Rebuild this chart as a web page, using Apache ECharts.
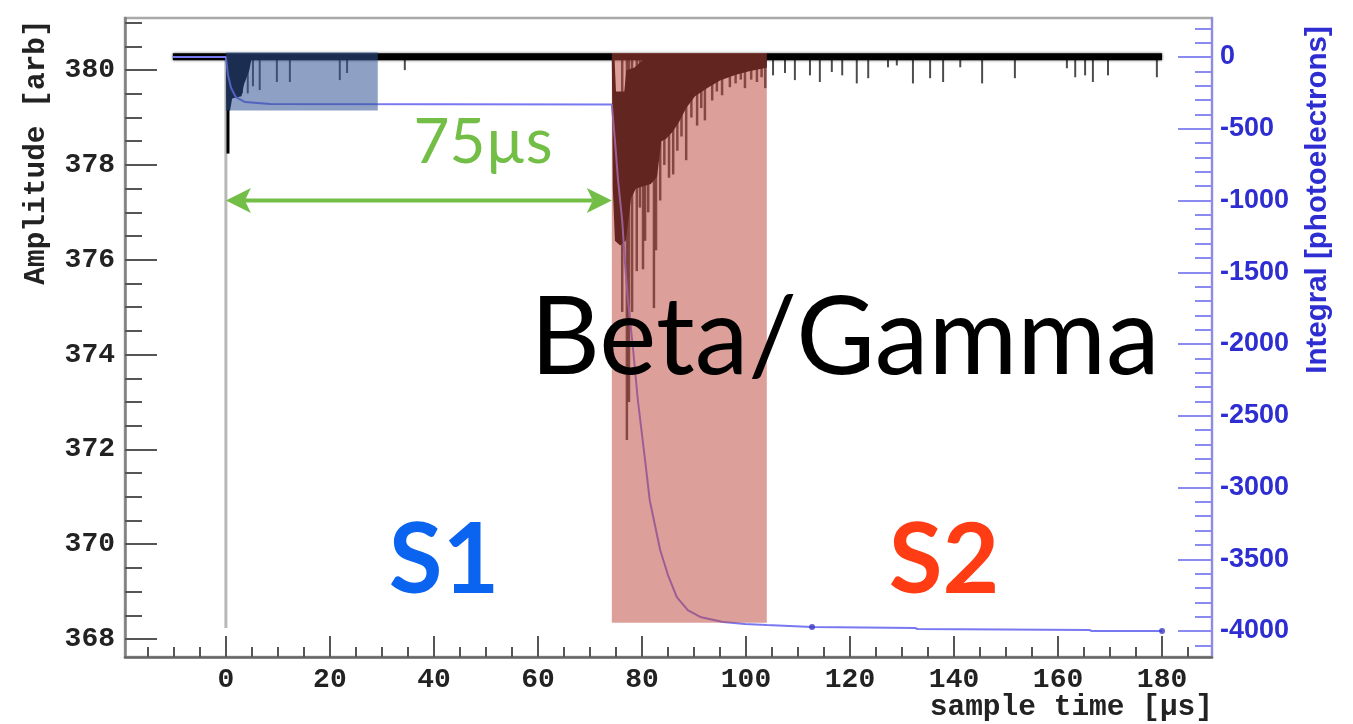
<!DOCTYPE html>
<html>
<head>
<meta charset="utf-8">
<script src="https://cdn.jsdelivr.net/npm/echarts@6/dist/echarts.min.js"></script>
<style>
  html, body { margin: 0; padding: 0; background: #fff; }
  #chart { width: 1353px; height: 724px; }
</style>
</head>
<body>
<div id="chart"></div>
<script>
// ---------- axes ----------
const timeRange = [-19.4, 189.6];                  // sample time [µs]
const timeTicks = [0, 20, 40, 60, 80, 100, 120, 140, 160, 180];
const ampRange = [367.62, 381.1];                  // amplitude [arb]
const ampTicks = [368, 370, 372, 374, 376, 378, 380];
const integralRange = [-4181, 272];                // integral [photoelectrons]
const integralTicks = [0, -500, -1000, -1500, -2000, -2500, -3000, -3500, -4000];

function steps(from, to, step) {
  const out = [];
  for (let v = from; v <= to + 1e-9; v += step) out.push(+v.toFixed(3));
  return out;
}
const timeMinorTicks = steps(-15, 185, 5);
const ampMinorTicks = steps(368, 381, 0.5);
const integralMinorTicks = steps(-4100, 200, 100);

// ---------- waveform ----------
const baselineLevel = 380.285;
const traceSpan = [-10.2, 180];

// S1 pulse: solid body right after the trigger
const s1Upper = [[0, 380.285], [5.0, 380.285]];
const s1Lower = [[0, 380.285], [0.1, 379.15], [0.8, 379.15], [1.2, 379.4], [3.0, 379.45],
                 [3.5, 379.7], [4.5, 380.0], [5.0, 380.285]];
const s1Peak = [[0.4, 378.24]];

// S2 pulse: solid body of the electroluminescence signal
const s2Upper = [[74.2, 380.3], [74.7, 380.3], [75.0, 379.55], [76.6, 379.55], [77.0, 380.0],
                 [78.5, 380.05], [80.0, 380.2], [81.0, 380.3], [104.0, 380.3]];
const s2Lower = [[74.2, 380.3], [74.4, 377.5], [74.8, 376.4], [75.8, 376.3], [76.9, 376.4],
                 [77.9, 377.3], [78.8, 377.5], [80.2, 377.55], [81.7, 377.6], [82.9, 377.75],
                 [83.7, 378.5], [84.6, 378.55], [85.9, 378.7], [87.1, 378.9], [88.5, 379.2],
                 [90.2, 379.45], [92.5, 379.62], [95.0, 379.78], [97.9, 379.9], [100.8, 379.98],
                 [104.0, 380.05]];

// single-photoelectron spikes [time, minimum amplitude]
const spikes = [
  [3.1, 379.51], [4.2, 379.51], [5.2, 379.66], [6.5, 379.58], [9.8, 379.75], [12.3, 379.75],
  [21.9, 379.79], [23.3, 379.94], [34.4, 380.0],
  [105.2, 379.89], [107.5, 379.94], [109.4, 379.79], [112.3, 379.89], [114.2, 379.75],
  [116.5, 379.96], [118.5, 379.89], [121.3, 379.72], [123.5, 379.83], [127.3, 380.06],
  [129.0, 380.1], [132.1, 379.72], [135.4, 379.83], [137.9, 379.75], [141.2, 380.06],
  [145.4, 379.72], [151.7, 379.83], [161.7, 380.04], [163.3, 379.85], [165.2, 379.89],
  [166.7, 379.75], [169.6, 379.89], [179.0, 379.85]
];
// dense spikes riding on the S2 body
const s2Spikes = [
  [76.2, 374.9], [77.1, 372.2], [77.5, 373.0], [78.1, 374.9], [79.0, 375.76], [79.6, 377.1],
  [80.2, 375.8], [80.6, 376.4], [81.2, 377.0], [82.3, 374.98], [82.7, 376.2], [83.5, 377.25],
  [84.3, 378.0], [85.2, 377.73], [86.0, 377.8], [86.8, 378.3], [87.6, 378.6], [88.5, 378.1],
  [89.5, 379.0], [90.6, 378.83], [91.4, 379.2], [92.1, 378.94], [93.5, 379.36], [94.4, 379.55],
  [95.4, 379.47], [96.9, 379.64], [98.0, 379.72], [99.0, 379.8], [99.8, 379.62], [101.0, 379.8],
  [102.1, 379.75], [103.0, 379.85], [103.7, 379.62]
];

// running integral of the pulse [time, photoelectrons]
const integralTrace = [
  [-10.2, 0], [0, 0], [0.4, -125], [1.0, -216], [1.9, -279], [3.7, -314], [8.5, -327],
  [74.2, -330], [74.8, -580], [75.4, -860], [76.2, -1140], [76.7, -1415], [77.3, -1690],
  [78.3, -2040], [79.2, -2390], [80.6, -2810], [81.5, -3090], [83.5, -3435], [85.0, -3610],
  [86.7, -3763], [88.8, -3855], [91.2, -3902], [95.6, -3937], [99.8, -3951], [104.0, -3958],
  [112.7, -3972], [132.5, -3979], [133.0, -3986], [166.0, -3993], [166.5, -4000], [180.0, -4000]
];
const integralMarkers = [[112.7, -3972], [180.0, -4000]];

// integration windows and annotations
const s1WindowTime = [0, 29.2];
const s1WindowAmp = [379.15, 380.38];
const s2WindowTime = [74.2, 104.0];
const s2WindowAmp = [368.34, 380.36];
const driftTime = [0, 74.2];
const driftLevel = 377.25;
const triggerTime = 0;
const triggerAmp = [368.23, 380.285];

// ---------- drawing helpers ----------
const monoFont = '"Liberation Mono", "DejaVu Sans Mono", monospace';
const sansFont = '"Liberation Sans", Arial, sans-serif';
const titleFont = 'Lato, "Open Sans", sans-serif';

function bandSeries(upper, lower) {
  return {
    type: 'custom', xAxisIndex: 0, yAxisIndex: 0, z: 2, silent: true,
    data: [upper[0]], encode: { x: 0, y: 1 },
    renderItem: (params, api) => {
      const pts = upper.map(p => api.coord(p))
        .concat(lower.slice().reverse().map(p => api.coord(p)));
      return { type: 'polygon', shape: { points: pts }, style: { fill: '#000' } };
    }
  };
}

function spikeSeries(data, width, opacity) {
  return {
    type: 'custom', xAxisIndex: 0, yAxisIndex: 0, z: 2, silent: true,
    data: data, encode: { x: 0, y: 1 },
    renderItem: (params, api) => {
      const t = api.value(0);
      const a = api.coord([t, baselineLevel]);
      const b = api.coord([t, api.value(1)]);
      return { type: 'line', shape: { x1: a[0], y1: a[1], x2: b[0], y2: b[1] },
               style: { stroke: '#000', lineWidth: width, opacity: opacity } };
    }
  };
}

function windowSeries(times, amps, fill) {
  return {
    type: 'custom', xAxisIndex: 0, yAxisIndex: 0, z: 4, silent: true,
    data: [[times[0], times[1], amps[0], amps[1]]], encode: { x: [0, 1], y: [2, 3] },
    renderItem: (params, api) => {
      const p0 = api.coord([api.value(0), api.value(3)]);
      const p1 = api.coord([api.value(1), api.value(2)]);
      return { type: 'rect',
               shape: { x: p0[0], y: p0[1], width: p1[0] - p0[0], height: p1[1] - p0[1] },
               style: { fill: fill } };
    }
  };
}

function minorAxis(range, position, ticks, length, color) {
  return { type: 'value', min: range[0], max: range[1], position: position,
           axisLine: { show: false, onZero: false },
           axisTick: { show: true, inside: true, length: length, customValues: ticks,
                       lineStyle: { color: color, width: 2 } },
           axisLabel: { show: false }, splitLine: { show: false } };
}

const chart = echarts.init(document.getElementById('chart'));

chart.setOption({
  animation: false,
  backgroundColor: '#fff',
  grid: { left: 125, right: 141, top: 18, bottom: 67, show: true,
          borderColor: '#a9a9a9', borderWidth: 2.5, backgroundColor: 'transparent' },
  xAxis: [
    { type: 'value', min: timeRange[0], max: timeRange[1], position: 'bottom',
      axisLine: { show: true, onZero: false, lineStyle: { color: '#666', width: 2.5 } },
      axisTick: { show: true, inside: true, length: 21, customValues: timeTicks,
                  lineStyle: { color: '#555', width: 2 } },
      axisLabel: { customValues: timeTicks, margin: 9, color: '#222', fontFamily: monoFont,
                   fontWeight: 'bold', fontSize: 28, formatter: v => String(v) },
      splitLine: { show: false } },
    minorAxis(timeRange, 'bottom', timeMinorTicks, 10, '#555')
  ],
  yAxis: [
    { type: 'value', min: ampRange[0], max: ampRange[1], position: 'left',
      axisLine: { show: true, onZero: false, lineStyle: { color: '#808080', width: 2.5 } },
      axisTick: { show: true, inside: true, length: 32, customValues: ampTicks,
                  lineStyle: { color: '#555', width: 2 } },
      axisLabel: { customValues: ampTicks, margin: 10, color: '#222', fontFamily: monoFont,
                   fontWeight: 'bold', fontSize: 28, formatter: v => String(v) },
      splitLine: { show: false } },
    minorAxis(ampRange, 'left', ampMinorTicks, 17, '#555'),
    { type: 'value', min: integralRange[0], max: integralRange[1], position: 'right',
      axisLine: { show: true, onZero: false, lineStyle: { color: '#8a8af0', width: 2 } },
      axisTick: { show: true, inside: true, length: 34, customValues: integralTicks,
                  lineStyle: { color: '#8a8af0', width: 2 } },
      axisLabel: { customValues: integralTicks, margin: 8, color: '#2d2dd2', fontFamily: sansFont,
                   fontWeight: 'bold', fontSize: 27, formatter: v => String(v) },
      splitLine: { show: false } },
    minorAxis(integralRange, 'right', integralMinorTicks, 17, '#8a8af0')
  ],
  series: [
    // trigger marker at t = 0
    { type: 'line', xAxisIndex: 0, yAxisIndex: 0, z: 1, silent: true, symbol: 'none',
      data: [[triggerTime, triggerAmp[0]], [triggerTime, triggerAmp[1]]],
      lineStyle: { color: '#b8b8b8', width: 3 } },
    // waveform baseline (noise band)
    { type: 'line', xAxisIndex: 0, yAxisIndex: 0, z: 2, silent: true, symbol: 'none',
      data: [[traceSpan[0], baselineLevel], [traceSpan[1], baselineLevel]],
      lineStyle: { color: '#000', width: 7, shadowBlur: 3, shadowColor: 'rgba(0,0,0,0.6)' } },
    bandSeries(s1Upper, s1Lower),
    bandSeries(s2Upper, s2Lower),
    spikeSeries(s1Peak, 3, 1),
    spikeSeries(spikes, 2, 0.7),
    spikeSeries(s2Spikes, 2.5, 0.72),
    // integral
    { type: 'line', xAxisIndex: 0, yAxisIndex: 2, z: 3, silent: true, symbol: 'none',
      data: integralTrace, lineStyle: { color: '#7878f0', width: 2 } },
    { type: 'scatter', xAxisIndex: 0, yAxisIndex: 2, z: 3, silent: true,
      data: integralMarkers, symbolSize: 6, itemStyle: { color: '#3a3ac8' } },
    // integration windows
    windowSeries(s1WindowTime, s1WindowAmp, 'rgba(50,82,148,0.55)'),
    windowSeries(s2WindowTime, s2WindowAmp, 'rgba(190,70,62,0.52)'),
    // drift-time arrow
    { type: 'custom', xAxisIndex: 0, yAxisIndex: 0, z: 5, silent: true,
      data: [[driftTime[0], driftTime[1], driftLevel]], encode: { x: [0, 1], y: 2 },
      renderItem: (params, api) => {
        const a = api.coord([api.value(0), api.value(2)]);
        const b = api.coord([api.value(1), api.value(2)]);
        const L = 25, H = 12.5, N = 19, col = '#73be46';
        return { type: 'group', children: [
          { type: 'line', shape: { x1: a[0] + N, y1: a[1], x2: b[0] - N, y2: b[1] },
            style: { stroke: col, lineWidth: 4 } },
          { type: 'polygon', shape: { points: [[a[0], a[1]], [a[0] + L, a[1] - H], [a[0] + N, a[1]], [a[0] + L, a[1] + H]] },
            style: { fill: col } },
          { type: 'polygon', shape: { points: [[b[0], b[1]], [b[0] - L, b[1] - H], [b[0] - N, b[1]], [b[0] - L, b[1] + H]] },
            style: { fill: col } }
        ] };
      } }
  ],
  graphic: [
    { type: 'text', x: 37, y: 152, rotation: Math.PI / 2, z: 100,
      style: { text: 'Amplitude [arb]', fill: '#222', fontFamily: monoFont, fontWeight: 'bold',
               fontSize: 29.5, align: 'center', verticalAlign: 'middle' } },
    { type: 'text', x: 1318, y: 200, rotation: Math.PI / 2, z: 100,
      style: { text: 'Integral [photoelectrons]', fill: '#2d2dd2', fontFamily: sansFont,
               fontWeight: 'bold', fontSize: 29.5, align: 'center', verticalAlign: 'middle' } },
    { type: 'text', x: 1213, y: 708, z: 100,
      style: { text: 'sample time [µs]', fill: '#222', fontFamily: monoFont, fontWeight: 'bold',
               fontSize: 29.5, align: 'right', verticalAlign: 'middle' } },
    { type: 'text', x: 483, y: 143, z: 100,
      style: { text: '75µs', fill: '#73be46', fontFamily: titleFont, fontSize: 62,
               align: 'center', verticalAlign: 'middle' } },
    { type: 'text', x: 845, y: 339, z: 100,
      style: { text: 'Beta/Gamma', fill: '#000', fontFamily: titleFont, fontSize: 108,
               align: 'center', verticalAlign: 'middle' } },
    { type: 'text', x: 444, y: 561, z: 100,
      style: { text: 'S1', fill: '#0a64f0', fontFamily: titleFont, fontWeight: 'bold', fontSize: 98,
               align: 'center', verticalAlign: 'middle' } },
    { type: 'text', x: 944, y: 561, z: 100,
      style: { text: 'S2', fill: '#ff3c14', fontFamily: titleFont, fontWeight: 'bold', fontSize: 98,
               align: 'center', verticalAlign: 'middle' } }
  ]
});
</script>
</body>
</html>
